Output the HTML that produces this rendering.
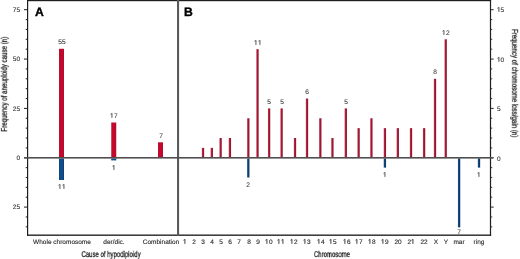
<!DOCTYPE html>
<html><head><meta charset="utf-8"><title>Hypodiploidy aneuploidy chart</title><style>
html,body{margin:0;padding:0;background:#fff}
#c{position:relative;width:520px;height:259px;overflow:hidden;background:#fff;font-family:"Liberation Sans",sans-serif}
#c div{position:absolute}
#c .t{white-space:nowrap;line-height:1;will-change:transform;text-rendering:geometricPrecision;-webkit-text-stroke:0.1px currentColor}
#c span.o1{display:inline-block;width:0.556em;height:0;position:relative}
#c svg.o{position:absolute;left:0;bottom:0;width:0.556em;height:0.688em;fill:currentColor;overflow:visible}
#c .ti{color:#1a1a1a;transform-origin:center;-webkit-text-stroke:0.3px #1a1a1a}
#c .pl{font-size:12.2px;font-weight:bold;color:#000;-webkit-text-stroke:0.35px #000}
</style></head><body><div id="c">
<svg width="520" height="259" viewBox="0 0 520 259" style="position:absolute;left:0;top:0">
<defs>
<linearGradient id="rA"><stop offset="0" stop-color="#a81a36"/><stop offset="0.28" stop-color="#c8062c"/><stop offset="0.68" stop-color="#c8062c"/><stop offset="1" stop-color="#a01530"/></linearGradient>
<linearGradient id="rB"><stop offset="0" stop-color="#c23a52"/><stop offset="0.5" stop-color="#a51432"/><stop offset="1" stop-color="#861a2c"/></linearGradient>
<linearGradient id="bA"><stop offset="0" stop-color="#17406c"/><stop offset="0.3" stop-color="#104f8e"/><stop offset="0.65" stop-color="#104f8e"/><stop offset="1" stop-color="#0d3b6f"/></linearGradient>
<linearGradient id="bB"><stop offset="0" stop-color="#1d4f80"/><stop offset="0.5" stop-color="#0b3f73"/><stop offset="1" stop-color="#0a3566"/></linearGradient>
</defs>
<rect x="27.00" y="0.00" width="464.10" height="1.20" fill="#1e1e1e"/>
<rect x="27.00" y="0.00" width="1.20" height="235.75" fill="#1e1e1e"/>
<rect x="489.90" y="0.00" width="1.20" height="235.75" fill="#1e1e1e"/>
<rect x="27.00" y="234.50" width="464.10" height="1.35" fill="#1e1e1e"/>
<rect x="177.00" y="0.00" width="2.10" height="235.75" fill="#5a5a5a"/>
<rect x="25.70" y="226.29" width="1.30" height="1.10" fill="#333"/>
<rect x="491.10" y="226.29" width="1.10" height="1.10" fill="#333"/>
<rect x="25.70" y="216.42" width="1.30" height="1.10" fill="#333"/>
<rect x="491.10" y="216.42" width="1.10" height="1.10" fill="#333"/>
<rect x="24.00" y="206.60" width="3.00" height="1.00" fill="#1e1e1e"/>
<rect x="491.10" y="206.60" width="2.50" height="1.00" fill="#1e1e1e"/>
<rect x="25.70" y="196.68" width="1.30" height="1.10" fill="#333"/>
<rect x="491.10" y="196.68" width="1.10" height="1.10" fill="#333"/>
<rect x="25.70" y="186.81" width="1.30" height="1.10" fill="#333"/>
<rect x="491.10" y="186.81" width="1.10" height="1.10" fill="#333"/>
<rect x="25.70" y="176.94" width="1.30" height="1.10" fill="#333"/>
<rect x="491.10" y="176.94" width="1.10" height="1.10" fill="#333"/>
<rect x="25.70" y="167.07" width="1.30" height="1.10" fill="#333"/>
<rect x="491.10" y="167.07" width="1.10" height="1.10" fill="#333"/>
<rect x="24.00" y="157.25" width="3.00" height="1.00" fill="#1e1e1e"/>
<rect x="491.10" y="157.25" width="2.50" height="1.00" fill="#1e1e1e"/>
<rect x="25.70" y="147.33" width="1.30" height="1.10" fill="#333"/>
<rect x="491.10" y="147.33" width="1.10" height="1.10" fill="#333"/>
<rect x="25.70" y="137.46" width="1.30" height="1.10" fill="#333"/>
<rect x="491.10" y="137.46" width="1.10" height="1.10" fill="#333"/>
<rect x="25.70" y="127.59" width="1.30" height="1.10" fill="#333"/>
<rect x="491.10" y="127.59" width="1.10" height="1.10" fill="#333"/>
<rect x="25.70" y="117.72" width="1.30" height="1.10" fill="#333"/>
<rect x="491.10" y="117.72" width="1.10" height="1.10" fill="#333"/>
<rect x="24.00" y="107.90" width="3.00" height="1.00" fill="#1e1e1e"/>
<rect x="491.10" y="107.90" width="2.50" height="1.00" fill="#1e1e1e"/>
<rect x="25.70" y="97.98" width="1.30" height="1.10" fill="#333"/>
<rect x="491.10" y="97.98" width="1.10" height="1.10" fill="#333"/>
<rect x="25.70" y="88.11" width="1.30" height="1.10" fill="#333"/>
<rect x="491.10" y="88.11" width="1.10" height="1.10" fill="#333"/>
<rect x="25.70" y="78.24" width="1.30" height="1.10" fill="#333"/>
<rect x="491.10" y="78.24" width="1.10" height="1.10" fill="#333"/>
<rect x="25.70" y="68.37" width="1.30" height="1.10" fill="#333"/>
<rect x="491.10" y="68.37" width="1.10" height="1.10" fill="#333"/>
<rect x="24.00" y="58.55" width="3.00" height="1.00" fill="#1e1e1e"/>
<rect x="491.10" y="58.55" width="2.50" height="1.00" fill="#1e1e1e"/>
<rect x="25.70" y="48.63" width="1.30" height="1.10" fill="#333"/>
<rect x="491.10" y="48.63" width="1.10" height="1.10" fill="#333"/>
<rect x="25.70" y="38.76" width="1.30" height="1.10" fill="#333"/>
<rect x="491.10" y="38.76" width="1.10" height="1.10" fill="#333"/>
<rect x="25.70" y="28.89" width="1.30" height="1.10" fill="#333"/>
<rect x="491.10" y="28.89" width="1.10" height="1.10" fill="#333"/>
<rect x="25.70" y="19.02" width="1.30" height="1.10" fill="#333"/>
<rect x="491.10" y="19.02" width="1.10" height="1.10" fill="#333"/>
<rect x="24.00" y="9.20" width="3.00" height="1.00" fill="#1e1e1e"/>
<rect x="491.10" y="9.20" width="2.50" height="1.00" fill="#1e1e1e"/>
<rect x="59.00" y="48.80" width="5.00" height="108.95" fill="url(#rA)"/>
<rect x="59.00" y="158.45" width="5.00" height="21.55" fill="url(#bA)"/>
<rect x="111.25" y="122.50" width="5.00" height="35.25" fill="url(#rA)"/>
<rect x="111.25" y="158.45" width="5.00" height="1.95" fill="url(#bA)"/>
<rect x="158.00" y="142.30" width="5.00" height="15.45" fill="url(#rA)"/>
<rect x="201.85" y="147.88" width="2.30" height="9.87" fill="url(#rB)"/>
<rect x="210.65" y="147.88" width="2.30" height="9.87" fill="url(#rB)"/>
<rect x="219.45" y="138.01" width="2.30" height="19.74" fill="url(#rB)"/>
<rect x="228.75" y="138.01" width="2.30" height="19.74" fill="url(#rB)"/>
<rect x="247.15" y="118.27" width="2.30" height="39.48" fill="url(#rB)"/>
<rect x="247.15" y="158.45" width="2.30" height="19.04" fill="url(#bB)"/>
<rect x="256.35" y="49.18" width="2.30" height="108.57" fill="url(#rB)"/>
<rect x="267.95" y="108.40" width="2.30" height="49.35" fill="url(#rB)"/>
<rect x="280.45" y="108.40" width="2.30" height="49.35" fill="url(#rB)"/>
<rect x="293.85" y="138.01" width="2.30" height="19.74" fill="url(#rB)"/>
<rect x="305.85" y="98.53" width="2.30" height="59.22" fill="url(#rB)"/>
<rect x="319.15" y="118.27" width="2.30" height="39.48" fill="url(#rB)"/>
<rect x="331.25" y="138.01" width="2.30" height="19.74" fill="url(#rB)"/>
<rect x="344.65" y="108.40" width="2.30" height="49.35" fill="url(#rB)"/>
<rect x="357.45" y="128.14" width="2.30" height="29.61" fill="url(#rB)"/>
<rect x="370.25" y="118.27" width="2.30" height="39.48" fill="url(#rB)"/>
<rect x="383.75" y="128.14" width="2.30" height="29.61" fill="url(#rB)"/>
<rect x="383.75" y="158.45" width="2.30" height="9.17" fill="url(#bB)"/>
<rect x="396.65" y="128.14" width="2.30" height="29.61" fill="url(#rB)"/>
<rect x="409.85" y="128.14" width="2.30" height="29.61" fill="url(#rB)"/>
<rect x="422.95" y="128.14" width="2.30" height="29.61" fill="url(#rB)"/>
<rect x="433.85" y="78.79" width="2.30" height="78.96" fill="url(#rB)"/>
<rect x="444.55" y="39.31" width="2.30" height="118.44" fill="url(#rB)"/>
<rect x="457.95" y="158.45" width="2.30" height="68.89" fill="url(#bB)"/>
<rect x="477.85" y="158.45" width="2.30" height="9.17" fill="url(#bB)"/>
<rect x="24.00" y="157.00" width="469.40" height="1.60" fill="#505050"/>
</svg>
<div class="t" style="left:-79.60px;width:100px;text-align:right;top:8px;font-size:6.5px;color:#303030">75</div>
<div class="t" style="left:-79.60px;width:100px;text-align:right;top:57px;font-size:6.5px;color:#303030">50</div>
<div class="t" style="left:-79.60px;width:100px;text-align:right;top:107px;font-size:6.5px;color:#303030">25</div>
<div class="t" style="left:-79.60px;width:100px;text-align:right;top:156px;font-size:6.5px;color:#303030">0</div>
<div class="t" style="left:-79.60px;width:100px;text-align:right;top:205px;font-size:6.5px;color:#303030">25</div>
<div class="t" style="left:497.20px;top:8px;font-size:6.5px;color:#303030"><span class="o1"><svg class="o" viewBox="0 -1163 1139 1409"><path d="M515 0L696 0L696-1409L530-1409L197-1180L197-1010L515-1237Z" stroke="currentColor" stroke-width="70" stroke-linejoin="round"/></svg></span>5</div>
<div class="t" style="left:497.20px;top:58px;font-size:6.5px;color:#303030"><span class="o1"><svg class="o" viewBox="0 -1163 1139 1409"><path d="M515 0L696 0L696-1409L530-1409L197-1180L197-1010L515-1237Z" stroke="currentColor" stroke-width="70" stroke-linejoin="round"/></svg></span>0</div>
<div class="t" style="left:497.20px;top:107px;font-size:6.5px;color:#303030">5</div>
<div class="t" style="left:497.20px;top:157px;font-size:6.5px;color:#303030">0</div>
<div class="t pl" style="left:34.6px;top:6px">A</div>
<div class="t pl" style="left:184.2px;top:6px">B</div>
<div class="t" style="left:11.50px;width:100px;text-align:center;top:40px;font-size:6.6px;color:#3c3c3c">55</div>
<div class="t" style="left:11.50px;width:100px;text-align:center;top:185px;font-size:6.6px;color:#3c3c3c"><span class="o1"><svg class="o" viewBox="0 -1480 1139 1409"><path d="M515 0L696 0L696-1409L530-1409L197-1180L197-1010L515-1237Z" stroke="currentColor" stroke-width="70" stroke-linejoin="round"/></svg></span><span class="o1"><svg class="o" viewBox="0 -1480 1139 1409"><path d="M515 0L696 0L696-1409L530-1409L197-1180L197-1010L515-1237Z" stroke="currentColor" stroke-width="70" stroke-linejoin="round"/></svg></span></div>
<div class="t" style="left:11.50px;width:100px;text-align:center;top:240px;font-size:6.5px;color:#222222">Whole chromosome</div>
<div class="t" style="left:63.75px;width:100px;text-align:center;top:114px;font-size:6.6px;color:#3c3c3c"><span class="o1"><svg class="o" viewBox="0 -1480 1139 1409"><path d="M515 0L696 0L696-1409L530-1409L197-1180L197-1010L515-1237Z" stroke="currentColor" stroke-width="70" stroke-linejoin="round"/></svg></span>7</div>
<div class="t" style="left:63.75px;width:100px;text-align:center;top:166px;font-size:6.6px;color:#3c3c3c"><span class="o1"><svg class="o" viewBox="0 -1480 1139 1409"><path d="M515 0L696 0L696-1409L530-1409L197-1180L197-1010L515-1237Z" stroke="currentColor" stroke-width="70" stroke-linejoin="round"/></svg></span></div>
<div class="t" style="left:63.75px;width:100px;text-align:center;top:240px;font-size:6.5px;color:#222222">der/dic.</div>
<div class="t" style="left:110.50px;width:100px;text-align:center;top:134px;font-size:6.6px;color:#3c3c3c">7</div>
<div class="t" style="left:110.50px;width:100px;text-align:center;top:240px;font-size:6.5px;color:#222222">Combination</div>
<div class="t" style="left:135.00px;width:100px;text-align:center;top:240px;font-size:6.5px;color:#222222"><span class="o1"><svg class="o" viewBox="0 -1163 1139 1409"><path d="M515 0L696 0L696-1409L530-1409L197-1180L197-1010L515-1237Z" stroke="currentColor" stroke-width="70" stroke-linejoin="round"/></svg></span></div>
<div class="t" style="left:143.80px;width:100px;text-align:center;top:240px;font-size:6.5px;color:#222222">2</div>
<div class="t" style="left:152.90px;width:100px;text-align:center;top:240px;font-size:6.5px;color:#222222">3</div>
<div class="t" style="left:161.70px;width:100px;text-align:center;top:240px;font-size:6.5px;color:#222222">4</div>
<div class="t" style="left:170.80px;width:100px;text-align:center;top:240px;font-size:6.5px;color:#222222">5</div>
<div class="t" style="left:180.00px;width:100px;text-align:center;top:240px;font-size:6.5px;color:#222222">6</div>
<div class="t" style="left:189.20px;width:100px;text-align:center;top:240px;font-size:6.5px;color:#222222">7</div>
<div class="t" style="left:198.30px;width:100px;text-align:center;top:183px;font-size:6.6px;color:#3c3c3c">2</div>
<div class="t" style="left:198.50px;width:100px;text-align:center;top:240px;font-size:6.5px;color:#222222">8</div>
<div class="t" style="left:207.50px;width:100px;text-align:center;top:41px;font-size:6.6px;color:#3c3c3c"><span class="o1"><svg class="o" viewBox="0 -1480 1139 1409"><path d="M515 0L696 0L696-1409L530-1409L197-1180L197-1010L515-1237Z" stroke="currentColor" stroke-width="70" stroke-linejoin="round"/></svg></span><span class="o1"><svg class="o" viewBox="0 -1480 1139 1409"><path d="M515 0L696 0L696-1409L530-1409L197-1180L197-1010L515-1237Z" stroke="currentColor" stroke-width="70" stroke-linejoin="round"/></svg></span></div>
<div class="t" style="left:207.50px;width:100px;text-align:center;top:240px;font-size:6.5px;color:#222222">9</div>
<div class="t" style="left:219.10px;width:100px;text-align:center;top:100px;font-size:6.6px;color:#3c3c3c">5</div>
<div class="t" style="left:218.80px;width:100px;text-align:center;top:240px;font-size:6.5px;color:#222222"><span class="o1"><svg class="o" viewBox="0 -1163 1139 1409"><path d="M515 0L696 0L696-1409L530-1409L197-1180L197-1010L515-1237Z" stroke="currentColor" stroke-width="70" stroke-linejoin="round"/></svg></span>0</div>
<div class="t" style="left:231.60px;width:100px;text-align:center;top:100px;font-size:6.6px;color:#3c3c3c">5</div>
<div class="t" style="left:231.30px;width:100px;text-align:center;top:240px;font-size:6.5px;color:#222222"><span class="o1"><svg class="o" viewBox="0 -1163 1139 1409"><path d="M515 0L696 0L696-1409L530-1409L197-1180L197-1010L515-1237Z" stroke="currentColor" stroke-width="70" stroke-linejoin="round"/></svg></span><span class="o1"><svg class="o" viewBox="0 -1163 1139 1409"><path d="M515 0L696 0L696-1409L530-1409L197-1180L197-1010L515-1237Z" stroke="currentColor" stroke-width="70" stroke-linejoin="round"/></svg></span></div>
<div class="t" style="left:244.40px;width:100px;text-align:center;top:240px;font-size:6.5px;color:#222222"><span class="o1"><svg class="o" viewBox="0 -1163 1139 1409"><path d="M515 0L696 0L696-1409L530-1409L197-1180L197-1010L515-1237Z" stroke="currentColor" stroke-width="70" stroke-linejoin="round"/></svg></span>2</div>
<div class="t" style="left:257.00px;width:100px;text-align:center;top:90px;font-size:6.6px;color:#3c3c3c">6</div>
<div class="t" style="left:257.30px;width:100px;text-align:center;top:240px;font-size:6.5px;color:#222222"><span class="o1"><svg class="o" viewBox="0 -1163 1139 1409"><path d="M515 0L696 0L696-1409L530-1409L197-1180L197-1010L515-1237Z" stroke="currentColor" stroke-width="70" stroke-linejoin="round"/></svg></span>3</div>
<div class="t" style="left:270.50px;width:100px;text-align:center;top:240px;font-size:6.5px;color:#222222"><span class="o1"><svg class="o" viewBox="0 -1163 1139 1409"><path d="M515 0L696 0L696-1409L530-1409L197-1180L197-1010L515-1237Z" stroke="currentColor" stroke-width="70" stroke-linejoin="round"/></svg></span>4</div>
<div class="t" style="left:283.30px;width:100px;text-align:center;top:240px;font-size:6.5px;color:#222222"><span class="o1"><svg class="o" viewBox="0 -1163 1139 1409"><path d="M515 0L696 0L696-1409L530-1409L197-1180L197-1010L515-1237Z" stroke="currentColor" stroke-width="70" stroke-linejoin="round"/></svg></span>5</div>
<div class="t" style="left:295.80px;width:100px;text-align:center;top:100px;font-size:6.6px;color:#3c3c3c">5</div>
<div class="t" style="left:296.50px;width:100px;text-align:center;top:240px;font-size:6.5px;color:#222222"><span class="o1"><svg class="o" viewBox="0 -1163 1139 1409"><path d="M515 0L696 0L696-1409L530-1409L197-1180L197-1010L515-1237Z" stroke="currentColor" stroke-width="70" stroke-linejoin="round"/></svg></span>6</div>
<div class="t" style="left:309.30px;width:100px;text-align:center;top:240px;font-size:6.5px;color:#222222"><span class="o1"><svg class="o" viewBox="0 -1163 1139 1409"><path d="M515 0L696 0L696-1409L530-1409L197-1180L197-1010L515-1237Z" stroke="currentColor" stroke-width="70" stroke-linejoin="round"/></svg></span>7</div>
<div class="t" style="left:322.30px;width:100px;text-align:center;top:240px;font-size:6.5px;color:#222222"><span class="o1"><svg class="o" viewBox="0 -1163 1139 1409"><path d="M515 0L696 0L696-1409L530-1409L197-1180L197-1010L515-1237Z" stroke="currentColor" stroke-width="70" stroke-linejoin="round"/></svg></span>8</div>
<div class="t" style="left:334.90px;width:100px;text-align:center;top:173px;font-size:6.6px;color:#3c3c3c"><span class="o1"><svg class="o" viewBox="0 -1480 1139 1409"><path d="M515 0L696 0L696-1409L530-1409L197-1180L197-1010L515-1237Z" stroke="currentColor" stroke-width="70" stroke-linejoin="round"/></svg></span></div>
<div class="t" style="left:335.30px;width:100px;text-align:center;top:240px;font-size:6.5px;color:#222222"><span class="o1"><svg class="o" viewBox="0 -1163 1139 1409"><path d="M515 0L696 0L696-1409L530-1409L197-1180L197-1010L515-1237Z" stroke="currentColor" stroke-width="70" stroke-linejoin="round"/></svg></span>9</div>
<div class="t" style="left:348.30px;width:100px;text-align:center;top:240px;font-size:6.5px;color:#222222">20</div>
<div class="t" style="left:361.10px;width:100px;text-align:center;top:240px;font-size:6.5px;color:#222222">2<span class="o1"><svg class="o" viewBox="0 -1163 1139 1409"><path d="M515 0L696 0L696-1409L530-1409L197-1180L197-1010L515-1237Z" stroke="currentColor" stroke-width="70" stroke-linejoin="round"/></svg></span></div>
<div class="t" style="left:374.40px;width:100px;text-align:center;top:240px;font-size:6.5px;color:#222222">22</div>
<div class="t" style="left:385.00px;width:100px;text-align:center;top:70px;font-size:6.6px;color:#3c3c3c">8</div>
<div class="t" style="left:385.50px;width:100px;text-align:center;top:240px;font-size:6.5px;color:#222222">X</div>
<div class="t" style="left:395.70px;width:100px;text-align:center;top:31px;font-size:6.6px;color:#3c3c3c"><span class="o1"><svg class="o" viewBox="0 -1480 1139 1409"><path d="M515 0L696 0L696-1409L530-1409L197-1180L197-1010L515-1237Z" stroke="currentColor" stroke-width="70" stroke-linejoin="round"/></svg></span>2</div>
<div class="t" style="left:395.70px;width:100px;text-align:center;top:240px;font-size:6.5px;color:#222222">Y</div>
<div class="t" style="left:409.10px;width:100px;text-align:center;top:230px;font-size:6.6px;color:#3c3c3c">7</div>
<div class="t" style="left:409.00px;width:100px;text-align:center;top:240px;font-size:6.5px;color:#222222">mar</div>
<div class="t" style="left:429.00px;width:100px;text-align:center;top:173px;font-size:6.6px;color:#3c3c3c"><span class="o1"><svg class="o" viewBox="0 -1480 1139 1409"><path d="M515 0L696 0L696-1409L530-1409L197-1180L197-1010L515-1237Z" stroke="currentColor" stroke-width="70" stroke-linejoin="round"/></svg></span></div>
<div class="t" style="left:428.80px;width:100px;text-align:center;top:240px;font-size:6.5px;color:#222222">ring</div>
<div class="t ti" style="left:11.40px;width:200px;text-align:center;top:250.20px;font-size:8.3px;transform:scaleX(0.725)">Cause of hypodiploidy</div>
<div class="t ti" style="left:231.60px;width:200px;text-align:center;top:250.20px;font-size:8.3px;transform:scaleX(0.725)">Chromosome</div>
<div class="t ti" style="left:-95.80px;width:200px;text-align:center;top:80.39px;font-size:8.3px;transform:rotate(-90deg) scaleX(0.742)">Frequency of aneuploidy cause (n)</div>
<div class="t ti" style="left:415.20px;width:200px;text-align:center;top:79.19px;font-size:8.3px;transform:rotate(90deg) scaleX(0.742)">Frequency of chromosome loss/gain (n)</div>
</div></body></html>
